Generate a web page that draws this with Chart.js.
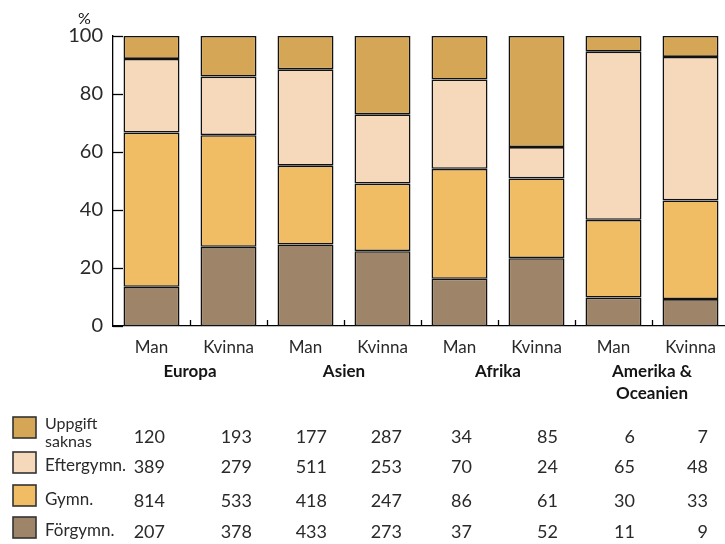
<!DOCTYPE html>
<html><head><meta charset="utf-8">
<script src="https://cdn.jsdelivr.net/npm/chart.js@4/dist/chart.umd.min.js"></script>
<style>
html,body{margin:0;padding:0;background:#fff;overflow:hidden;width:725px;height:544px}
#wrap{position:absolute;left:0;top:0;width:730px;height:544px}
</style>
</head><body><div id="wrap"><canvas id="c" width="730" height="544"></canvas></div>
<script>
// ---- data ----
const regions = ['Europa', 'Asien', 'Afrika', ['Amerika &', 'Oceanien']];
const categories = ['Man','Kvinna','Man','Kvinna','Man','Kvinna','Man','Kvinna'];
const seriesNames = ['Förgymn.', 'Gymn.', 'Eftergymn.', 'Uppgift saknas'];
// percentage shares shown by the bars
const forgymnPct   = [13.5, 27.3, 28.1, 25.8, 16.3, 23.4,  9.8,  9.3];
const gymnPct      = [53.2, 38.5, 27.2, 23.3, 37.9, 27.5, 26.8, 34.0];
const eftergymnPct = [25.4, 20.2, 33.2, 23.9, 30.8, 10.8, 58.0, 49.5];
const uppgiftPct   = [ 7.9, 14.0, 11.5, 27.0, 15.0, 38.3,  5.4,  7.2];
// counts shown in the table
const uppgiftCount   = [120, 193, 177, 287, 34, 85,  6,  7];
const eftergymnCount = [389, 279, 511, 253, 70, 24, 65, 48];
const gymnCount      = [814, 533, 418, 247, 86, 61, 30, 33];
const forgymnCount   = [207, 378, 433, 273, 37, 52, 11,  9];
const yTickValues = [0, 20, 40, 60, 80, 100];

// ---- styles ----
const colForgymn = '#9e8569';
const colGymn = '#f0bd65';
const colEfter = '#f6d8ba';
const colUppg = '#d4a656';
const FONT = "Lato, 'Open Sans', 'DejaVu Sans', sans-serif";
const TXT = '#2a2a2a';

function ds(label, data, color) {
  return { label, data, backgroundColor: color, borderColor: '#111',
           borderWidth: 1.6, borderSkipped: false,
           barPercentage: 0.727, categoryPercentage: 1.0 };
}

const extras = {
  id: 'extras',
  afterDraw(chart) {
    const ctx = chart.ctx;
    const xs = chart.scales.x, ys = chart.scales.y;
    const ca = chart.chartArea;
    ctx.save();
    ctx.strokeStyle = '#000';
    ctx.lineWidth = 1.3;
    // inward y ticks
    yTickValues.forEach(v => {
      const y = Math.round(ys.getPixelForValue(v)) + 0.5;
      ctx.beginPath(); ctx.moveTo(ca.left, y); ctx.lineTo(ca.left + 10, y); ctx.stroke();
    });
    // inward x ticks at category boundaries
    for (let i = 1; i <= categories.length; i++) {
      const x = i < categories.length
        ? Math.round((xs.getPixelForValue(i - 1) + xs.getPixelForValue(i)) / 2) + 0.5
        : ca.right - 0.5;
      ctx.beginPath(); ctx.moveTo(x, ca.bottom); ctx.lineTo(x, ca.bottom - 6); ctx.stroke();
    }
    // % unit
    ctx.fillStyle = '#111';
    ctx.font = '16px ' + FONT;
    ctx.textAlign = 'left'; ctx.textBaseline = 'middle';
    ctx.fillText('%', 78, 19);
    // region labels
    ctx.font = 'bold 17px ' + FONT;
    ctx.textAlign = 'center';
    ctx.fillStyle = '#151515';
    regions.forEach((r, k) => {
      const x = (xs.getPixelForValue(2 * k) + xs.getPixelForValue(2 * k + 1)) / 2;
      const lines = Array.isArray(r) ? r : [r];
      lines.forEach((t, j) => ctx.fillText(t, x, 372 + j * 22));
    });
    // table legend
    const rows = [
      { name: ['Uppgift', 'saknas'], color: colUppg, counts: uppgiftCount, sq: 417, ty: 437 },
      { name: ['Eftergymn.'], color: colEfter, counts: eftergymnCount, sq: 452, ty: 467 },
      { name: ['Gymn.'], color: colGymn, counts: gymnCount, sq: 485, ty: 501 },
      { name: ['Förgymn.'], color: colForgymn, counts: forgymnCount, sq: 517, ty: 532 }
    ];
    const numOffsets = [13.5, 23.5, 21.5, 19.5, 12.5, 21.5, 21.5, 17.5];
    rows.forEach(r => {
      ctx.fillStyle = r.color;
      ctx.fillRect(13, r.sq, 23, 21);
      ctx.strokeStyle = '#333'; ctx.lineWidth = 1.6;
      ctx.strokeRect(13, r.sq, 23, 21);
      ctx.fillStyle = TXT;
      ctx.textAlign = 'left';
      if (r.name.length === 2) {
        ctx.font = '16px ' + FONT;
        ctx.fillText(r.name[0], 45, 424);
        ctx.fillText(r.name[1], 45, 442);
      } else {
        ctx.font = '17px ' + FONT;
        ctx.fillText(r.name[0], 45, r.ty - 1);
      }
      ctx.font = '18px ' + FONT;
      ctx.textAlign = 'right';
      r.counts.forEach((v, i) => {
        ctx.fillText(String(v), xs.getPixelForValue(i) + numOffsets[i], r.ty);
      });
    });
    ctx.restore();
  }
};

new Chart(document.getElementById('c'), {
  type: 'bar',
  data: {
    labels: categories,
    datasets: [
      ds(seriesNames[0], forgymnPct, colForgymn),
      ds(seriesNames[1], gymnPct, colGymn),
      ds(seriesNames[2], eftergymnPct, colEfter),
      ds(seriesNames[3], uppgiftPct, colUppg)
    ]
  },
  options: {
    responsive: false, animation: false, devicePixelRatio: 1,
    layout: { padding: { top: 36, right: 1, bottom: 0, left: 0 } },
    plugins: { legend: { display: false }, tooltip: { enabled: false }, title: { display: false } },
    scales: {
      x: {
        stacked: true,
        grid: { display: false, drawTicks: false },
        border: { display: true, color: '#000', width: 1.3 },
        ticks: { color: TXT, font: { family: FONT, size: 17 }, padding: 11, maxRotation: 0, autoSkip: false },
        afterFit: s => { s.height = 218; }
      },
      y: {
        stacked: true, min: 0, max: 100,
        grid: { display: false, drawTicks: false },
        border: { display: true, color: '#000', width: 1.3 },
        ticks: { stepSize: 20, color: TXT, font: { family: FONT, size: 20 }, padding: 10 },
        afterFit: s => { s.width = 113; }
      }
    }
  },
  plugins: [extras]
});
</script>
</body></html>
